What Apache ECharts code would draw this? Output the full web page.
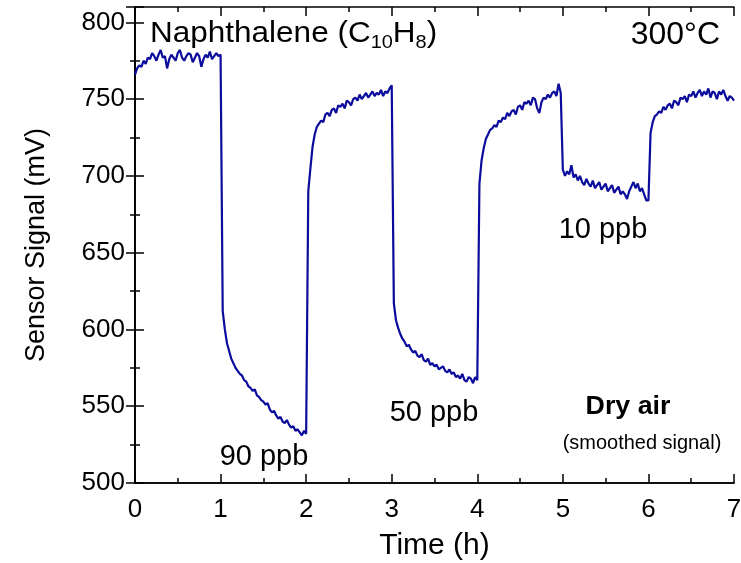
<!DOCTYPE html>
<html>
<head>
<meta charset="utf-8">
<script src="https://cdn.jsdelivr.net/npm/echarts@6/dist/echarts.min.js"></script>
<style>
  html, body { margin: 0; padding: 0; background: #fff; }
  #chart { width: 741px; height: 563px; }
</style>
</head>
<body>
<div id="chart"></div>
<script>
// sensor signal (mV), one value every 0.025 h, one array per hour
var step = 0.025;
var hour0 = [766, 770, 772, 771, 775, 773, 777, 776, 780, 778, 775, 779, 782, 777, 778, 770, 776, 779, 777, 775,
             780, 782, 777, 775, 778, 780, 779, 774, 777, 780, 778, 771, 776, 779, 777, 781, 776, 778, 780, 778];
var hour1 = [779, 612, 600, 591, 586, 581, 578, 575, 573, 571, 570, 567, 566, 563, 562, 560, 561, 557, 556, 554,
             553, 551, 552, 548, 546, 547, 544, 542, 543, 540, 539, 541, 538, 536, 537, 534, 535, 533, 531, 534];
var hour2 = [532, 690, 705, 719, 727, 732, 734, 736, 735, 740, 741, 739, 743, 744, 741, 746, 745, 747, 744, 749,
             748, 746, 750, 751, 749, 753, 750, 752, 754, 751, 753, 755, 752, 754, 753, 756, 752, 755, 754, 757];
var hour3 = [759, 617, 606, 601, 597, 594, 592, 589, 590, 587, 585, 586, 583, 582, 584, 580, 579, 581, 577, 578,
             576, 577, 574, 575, 576, 573, 572, 574, 571, 572, 569, 570, 568, 571, 567, 566, 569, 568, 565, 569];
var hour4 = [567, 695, 710, 718, 724, 727, 730, 731, 733, 732, 736, 735, 738, 737, 741, 739, 742, 743, 740, 745,
             746, 743, 748, 747, 749, 746, 751, 750, 744, 741, 748, 751, 750, 753, 751, 754, 755, 752, 760, 754];
var hour5 = [704, 700, 703, 701, 707, 699, 701, 697, 700, 696, 694, 698, 695, 693, 697, 692, 694, 696, 691, 693,
             695, 690, 692, 694, 689, 691, 693, 688, 690, 688, 685, 690, 693, 696, 692, 695, 690, 692, 688, 684];
var hour6 = [684, 728, 735, 739, 740, 742, 741, 745, 743, 746, 747, 744, 749, 748, 746, 751, 750, 752, 748, 753,
             752, 755, 751, 754, 756, 752, 755, 753, 757, 751, 755, 754, 750, 755, 753, 756, 752, 749, 752, 751];
var lastPoint = [7, 749];

var hours = [hour0, hour1, hour2, hour3, hour4, hour5, hour6];
var xTicks = [0, 1, 2, 3, 4, 5, 6, 7];
var yTicks = [500, 550, 600, 650, 700, 750, 800];

var data = [];
hours.forEach(function (vals, h) {
    vals.forEach(function (v, i) {
        data.push([+(h + i * step).toFixed(3), v]);
    });
});
data.push(lastPoint);

var font = 'Liberation Sans, Arial, sans-serif';
var dom = document.getElementById('chart');
var myChart = echarts.init(dom);

function axisLine() { return { show: true, lineStyle: { color: '#000', width: 1.5 } }; }
// the left axis ignores inside:true here, so it gets a negative length instead
function ticks(flip) {
    return { show: true, inside: !flip, length: flip ? -9 : 9, lineStyle: { color: '#000', width: 1.5 } };
}
function minor(flip) {
    return { show: true, splitNumber: 2, length: flip ? -5 : 5, lineStyle: { color: '#000', width: 1.5 } };
}

// labelled axes carry the text, the plain ones draw the inward ticks
function xAxisAt(pos, labelled) {
    var a = {
        type: 'value', min: 0, max: 7, interval: 1, position: pos,
        axisLine: axisLine(), splitLine: { show: false },
        axisTick: labelled ? { show: false } : ticks(false),
        minorTick: labelled ? { show: false } : minor(false),
        axisLabel: { show: false }
    };
    if (labelled) {
        a.name = 'Time (h)';
        a.nameLocation = 'middle';
        a.nameGap = 48;
        a.nameTextStyle = { fontFamily: font, fontSize: 30, color: '#000' };
        a.axisLabel = {
            show: true, fontFamily: font, fontSize: 26, color: '#000', margin: 14,
            formatter: function (v) { return xTicks.indexOf(v) >= 0 ? v : ''; }
        };
    }
    return a;
}
function yAxisAt(pos, labelled) {
    var flip = pos === 'left';
    var a = {
        type: 'value', min: 500, max: 810, interval: 50, position: pos,
        axisLine: axisLine(), splitLine: { show: false },
        axisTick: labelled ? { show: false } : ticks(flip),
        minorTick: labelled ? { show: false } : minor(flip),
        axisLabel: { show: false }
    };
    if (labelled) {
        a.name = 'Sensor Signal (mV)';
        a.nameLocation = 'middle';
        a.nameGap = 85;
        a.nameTextStyle = { fontFamily: font, fontSize: 27, color: '#000' };
        a.axisLabel = {
            show: true, fontFamily: font, fontSize: 26, color: '#000', margin: 10,
            formatter: function (v) { return yTicks.indexOf(v) >= 0 ? v : ''; }
        };
    }
    return a;
}

var option = {
    backgroundColor: '#fff',
    animation: false,
    grid: { left: 135, right: 7, top: 7, bottom: 80, containLabel: false, outerBoundsMode: 'none' },
    xAxis: [xAxisAt('bottom', true), xAxisAt('bottom', false), xAxisAt('top', false)],
    yAxis: [yAxisAt('left', true), yAxisAt('left', false), yAxisAt('right', false)],
    series: [
        {
            type: 'line',
            data: data,
            showSymbol: false,
            lineStyle: { color: '#0b0b9c', width: 2.2 },
            z: 3
        }
    ],
    graphic: [
        {
            type: 'text', x: 150, y: 34, scaleX: 1.05,
            style: {
                text: 'Naphthalene (C{s|10}H{s|8})',
                font: '30px ' + font, fill: '#000', textVerticalAlign: 'middle',
                rich: { s: { fontFamily: font, fontSize: 19, fill: '#000', padding: [18, 0, 0, 0] } }
            }
        },
        { type: 'text', x: 720, y: 35, style: { text: '300°C', font: '32px ' + font, fill: '#000', textAlign: 'right', textVerticalAlign: 'middle' } },
        { type: 'text', x: 264, y: 457, style: { text: '90 ppb', font: '29px ' + font, fill: '#000', textAlign: 'center', textVerticalAlign: 'middle' } },
        { type: 'text', x: 434, y: 413, style: { text: '50 ppb', font: '29px ' + font, fill: '#000', textAlign: 'center', textVerticalAlign: 'middle' } },
        { type: 'text', x: 603, y: 230, style: { text: '10 ppb', font: '29px ' + font, fill: '#000', textAlign: 'center', textVerticalAlign: 'middle' } },
        { type: 'text', x: 628, y: 407, scaleX: 1.03, style: { text: 'Dry air', font: 'bold 26px ' + font, fill: '#000', textAlign: 'center', textVerticalAlign: 'middle' } },
        { type: 'text', x: 642, y: 443, scaleX: 0.95, style: { text: '(smoothed signal)', font: '21px ' + font, fill: '#000', textAlign: 'center', textVerticalAlign: 'middle' } }
    ]
};

if (option && typeof option === 'object') {
    myChart.setOption(option);
}
</script>
</body>
</html>
